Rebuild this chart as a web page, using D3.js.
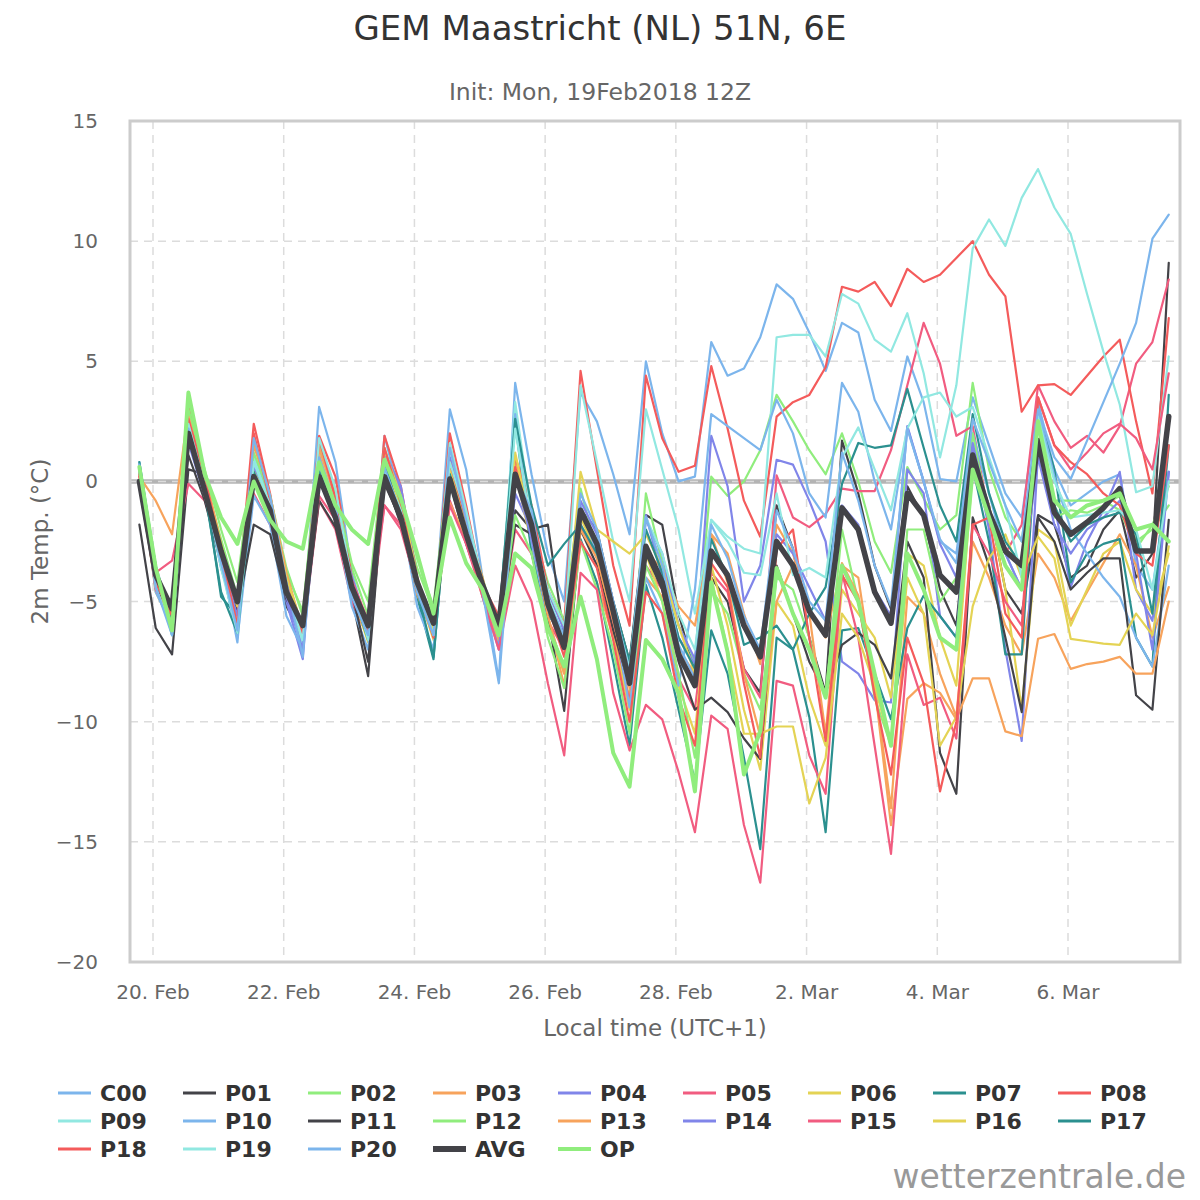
<!DOCTYPE html>
<html>
<head>
<meta charset="utf-8">
<script src="https://cdn.jsdelivr.net/npm/d3@7"></script>
<style>
  body { margin: 0; background: #fff; }
  svg { display: block; }
  text { font-family: "DejaVu Sans", sans-serif; }
</style>
</head>
<body>
<svg id="chart"></svg>
<script>
const WIDTH = 1200;
const HEIGHT = 1200;
const PLOT = { left: 130, right: 1180, top: 121, bottom: 962 };

// Datos: 2m temp (°C), cada 6 h desde 19 Feb 19:00 hora local (UTC+1).
const START = Date.UTC(2018, 1, 19, 19);
const STEP_HOURS = 6;

const c00 = [0.8,-3.5,-5.8,2.5,-0.5,-3.2,-6.7,1.0, -0.8,-4.5,-6.4,3.1,0.8,-3.8,-6.2,1.9, -0.8,-4.0,-6.2,3.0,0.5,-4.0,-8.3,4.1,
  0.3,-3.0,-5.0,3.7,2.5,0.3,-2.2,5.0, 2.0,0.0,0.2,5.8,4.4,4.7,6.0,8.2, 7.6,6.2,4.6,6.6,6.2,3.4,2.1,5.2,
  3.3,0.1,0.0,3.5,1.5,-0.5,-1.5,3.3, 0.5,-1.0,-0.5,0.0,0.3,-3.5,-4.5,0.4];
const p01 = [-1.8,-6.1,-7.2,0.5,0.3,-3.2,-5.6,0.4, -1.6,-5.2,-6.4,0.5,-1.2,-4.8,-8.1,0.2, -1.8,-4.5,-6.5,0.0,-2.6,-4.6,-6.2,-1.2,
  -2.0,-1.8,-6.5,-1.2,-2.0,-5.0,-7.5,-1.4, -1.8,-5.5,-8.0,-4.0,-5.0,-7.8,-8.8,-1.0, -2.8,-6.5,-8.8,1.7,-0.5,-3.5,-5.3,-0.2,
  -1.5,-4.5,-6.0,1.0,-1.0,-4.5,-5.5,-1.4, -1.8,-4.0,-3.5,-2.0,-1.2,-4.0,-3.0,9.1];
const p02 = [0.5,-4.2,-6.0,3.4,0.0,-2.4,-4.8,0.8, -0.8,-3.8,-5.4,1.4,-0.8,-3.6,-5.6,1.0, -1.0,-3.6,-5.4,0.6,-1.8,-4.0,-6.4,1.0,
  -1.8,-4.2,-5.8,-0.3,-3.0,-6.5,-9.0,-0.5, -3.4,-6.0,-7.5,0.2,-0.6,0.0,1.3,3.6, 2.5,1.3,0.3,2.0,0.0,-2.5,-3.8,0.6,
  -0.7,-2.0,-1.4,4.1,0.5,-1.5,-2.5,2.6, -0.8,-0.8,-0.8,-0.8,-1.2,-2.8,-1.8,-0.2];
const p03 = [0.2,-0.8,-2.2,3.0,0.4,-2.6,-5.6,1.5, -0.6,-4.0,-6.6,1.2,-1.0,-4.5,-6.5,0.5, -1.2,-4.4,-6.3,0.6,-1.6,-4.0,-6.8,1.0,
  -2.5,-5.6,-8.5,-2.5,-4.2,-6.5,-9.0,-4.0, -4.8,-7.0,-8.0,-2.2,-3.0,-5.5,-7.6,-1.8, -3.0,-5.4,-6.5,-3.5,-4.0,-8.5,-13.6,-4.8,
  -5.5,-8.0,-9.8,-2.5,-4.0,-6.0,-7.2,-3.0, -4.0,-5.8,-4.6,-3.4,-2.2,-3.5,-6.5,-4.4];
const p04 = [0.5,-4.5,-5.6,2.2,-0.4,-3.6,-5.9,0.6, -1.3,-5.0,-7.4,0.9,-0.8,-4.4,-6.3,1.2, -0.4,-4.3,-6.0,0.6,-2.2,-4.5,-6.8,-0.5,
  -2.0,-4.6,-6.2,-1.8,-3.0,-5.2,-7.8,-1.4, -4.0,-6.5,-7.6,1.9,-0.2,-5.0,-3.5,0.9, 0.7,-0.8,-2.5,-7.5,-8.0,-9.1,-9.2,0.5,
  -0.5,-5.6,-6.5,1.5,-2.0,-7.0,-10.8,1.2, -1.0,-4.4,-2.5,-1.2,0.4,-4.5,-5.8,0.4];
const p05 = [-0.2,-3.8,-3.3,-0.1,-0.8,-3.0,-5.4,-0.5, -1.8,-4.0,-6.5,-0.8,-2.0,-5.0,-6.5,-1.0, -1.8,-4.5,-6.0,-0.8,-2.6,-4.5,-6.6,-2.0,
  -3.0,-5.8,-7.0,-1.8,-3.2,-6.0,-9.2,-3.5, -4.5,-8.2,-9.5,-3.8,-4.6,-7.8,-9.0,0.25, -1.5,-1.9,-1.35,-0.3,-0.4,-0.4,1.3,4.0,
  6.6,4.9,1.9,2.3,-1.5,-3.0,-1.8,4.0, 2.5,1.4,1.9,1.2,2.3,4.9,5.8,8.4];
const p06 = [0.4,-4.6,-6.0,2.6,-0.2,-2.6,-5.4,0.8, -1.0,-4.4,-6.6,0.6,-1.4,-4.6,-6.7,0.7, -1.2,-4.4,-6.6,0.9,-1.8,-4.5,-6.4,0.4,
  -2.6,-6.0,-8.0,-1.5,-3.0,-6.5,-9.5,-3.0, -5.0,-8.5,-10.5,-3.5,-6.0,-9.5,-12.0,-5.0, -6.0,-9.0,-11.0,-4.5,-5.5,-6.5,-9.0,-3.0,
  -3.5,-6.5,-8.5,0.5,-1.0,-4.5,-9.5,-2.0, -2.5,-6.0,-4.5,-3.0,-2.5,-4.5,-5.5,-3.0];
const p07 = [0.8,-3.6,-6.4,2.3,-0.2,-4.8,-5.6,0.6, -1.0,-4.6,-6.2,0.5,-1.0,-4.5,-6.6,0.8, -1.5,-4.8,-7.4,0.5,-2.0,-4.2,-5.8,2.5,
  -3.0,-5.5,-6.6,-2.4,-4.2,-7.5,-11.0,-4.3, -6.5,-9.5,-12.5,-6.2,-8.0,-11.5,-15.3,-6.5, -7.0,-9.8,-14.6,-6.2,-6.1,-8.0,-9.9,-6.1,
  -4.75,-5.6,-6.5,0.6,-2.5,-7.2,-7.2,2.8, 0.5,-4.2,-3.0,-2.6,-2.4,-6.5,-7.7,3.6];
const p08 = [0.3,-4.4,-5.9,3.2,0.2,-3.0,-5.0,2.4, -0.5,-4.3,-6.2,1.9,0.2,-4.0,-6.3,1.9, -0.2,-4.0,-6.0,2.0,-1.0,-4.3,-5.6,1.0,
  -1.0,-4.5,-6.0,4.6,0.5,-3.5,-6.0,4.4, 1.8,0.4,0.65,4.8,2.2,-0.8,-2.3,2.7, 3.3,3.6,4.75,8.1,7.9,8.3,7.3,8.85,
  8.3,8.6,9.3,10.0,8.6,7.7,2.9,4.0, 4.05,3.6,4.4,5.2,5.9,2.5,-0.5,6.8];
const p09 = [0.6,-4.0,-6.4,2.0,-0.4,-3.5,-6.0,1.0, -1.0,-4.8,-6.8,1.4,-0.8,-4.4,-6.3,1.0, -0.8,-4.3,-6.3,1.6,-1.2,-4.2,-6.2,3.3,
  -1.5,-4.8,-6.5,4.0,0.8,-2.5,-5.0,3.0, 0.5,-2.0,-5.5,-1.6,-2.3,-2.8,-3.0,6.0, 6.1,6.1,5.2,7.8,7.4,5.9,5.4,7.0,
  4.5,1.0,4.0,9.7,10.9,9.8,11.8,13.0, 11.4,10.3,7.8,5.4,3.2,-0.45,-0.2,5.2];
const p10 = [0.7,-4.6,-6.0,1.8,-0.6,-3.4,-6.5,-0.6, -1.8,-5.6,-7.0,0.0,-1.4,-5.2,-7.0,0.3, -1.2,-5.2,-7.0,0.9,-2.0,-4.6,-6.8,2.8,
  -2.5,-5.8,-7.8,-1.0,-3.0,-5.5,-9.4,-4.0, -5.5,-8.5,-4.5,2.8,2.3,1.8,1.3,3.4, 2.0,-0.5,-1.5,4.1,2.9,0.0,-2.0,2.25,
  0.0,-2.5,-3.0,2.0,-0.5,-3.0,-4.5,3.0, 0.2,-2.0,-3.0,-4.0,-4.8,-6.5,-7.7,-3.5];
const p11 = [-0.2,-4.3,-6.1,1.1,-0.8,-3.4,-5.4,-1.8, -2.2,-4.9,-6.2,-0.8,-1.9,-4.6,-7.5,-0.1, -1.6,-4.6,-6.2,0.2,-2.4,-4.6,-6.4,-1.8,
  -2.2,-5.6,-9.55,-2.0,-3.5,-6.2,-8.5,-3.0, -4.5,-7.5,-9.5,-9.0,-9.6,-10.7,-11.55,-3.5, -5.5,-7.5,-8.8,-6.8,-6.3,-6.8,-8.2,-2.5,
  -4.0,-11.3,-13.0,-1.5,-3.5,-6.5,-9.6,-1.5, -2.5,-4.5,-3.8,-3.2,-3.2,-8.9,-9.5,-1.6];
const p12 = [0.6,-3.8,-5.4,3.0,0.5,-2.0,-4.2,1.2, -0.6,-3.6,-5.6,1.6,-0.5,-3.4,-5.0,1.4, -0.8,-3.2,-5.2,1.0,-1.8,-4.6,-6.6,-1.4,
  -3.0,-6.5,-8.6,-2.5,-4.5,-7.0,-10.5,-3.5, -5.0,-8.0,-11.5,-4.5,-5.5,-8.0,-9.5,-4.0, -4.5,-6.5,-9.0,-2.0,-5.0,-9.0,-11.0,-2.0,
  -2.0,-5.0,-4.0,2.0,-1.5,-3.5,-4.5,2.3, -1.5,-1.2,-1.3,-1.0,-0.6,-2.5,-2.0,-1.0];
const p13 = [0.5,-4.0,-5.7,2.7,0.0,-3.0,-5.8,1.8, -0.6,-3.8,-6.2,1.4,-0.7,-4.2,-6.0,0.3, -1.2,-4.7,-6.4,-0.9,-2.4,-4.8,-6.6,0.5,
  -2.2,-5.6,-8.0,-2.0,-3.2,-5.8,-8.6,-3.0, -3.6,-5.2,-6.0,-2.2,-4.2,-8.0,-10.6,-5.0, -3.5,-5.5,-10.5,-3.4,-4.75,-8.5,-14.3,-9.05,
  -8.4,-8.8,-9.9,-8.2,-8.2,-10.4,-10.6,-6.55, -6.35,-7.8,-7.6,-7.5,-7.3,-8.0,-8.0,-5.0];
const p14 = [0.4,-4.2,-5.6,1.6,-0.6,-3.3,-5.6,0.6, -1.3,-4.8,-7.0,0.6,-1.0,-4.0,-6.0,1.2, -0.2,-4.1,-6.2,1.0,-1.6,-4.8,-7.0,0.3,
  -2.4,-5.3,-7.0,-0.8,-2.2,-5.0,-8.4,-1.6, -3.0,-6.0,-7.4,-3.0,-4.0,-6.0,-7.0,-2.2, -3.0,-4.4,-5.8,-1.0,-1.8,-4.5,-5.6,2.3,
  0.0,-2.6,-4.0,1.6,-1.5,-3.0,-4.5,1.0, -1.8,-3.0,-2.0,-1.5,-0.8,-3.0,-7.0,0.4];
const p15 = [0.3,-4.5,-5.8,2.0,-0.2,-3.2,-5.2,0.0, -1.6,-4.4,-6.0,-0.6,-1.6,-4.1,-5.8,-1.0, -2.0,-4.4,-6.0,-1.0,-2.6,-4.8,-7.0,-3.5,
  -5.0,-8.4,-11.4,-3.8,-4.5,-8.8,-11.2,-9.3, -9.9,-12.1,-14.6,-9.75,-10.3,-14.3,-16.7,-8.3, -8.5,-11.4,-13.0,-3.8,-6.5,-11.0,-15.5,-7.2,
  -9.3,-9.0,-10.7,-1.8,-3.0,-5.0,-6.0,3.5, 1.5,0.5,1.2,2.0,2.4,1.8,0.5,4.5];
const p16 = [0.6,-3.9,-6.0,2.4,-0.6,-3.0,-5.2,0.4, -1.0,-4.0,-6.1,0.2,-1.0,-4.5,-6.3,1.3, -0.6,-4.0,-6.2,0.6,-2.0,-4.4,-6.2,1.2,
  -2.0,-5.0,-6.8,0.4,-2.0,-2.5,-3.0,-2.2, -3.6,-6.0,-8.0,-4.0,-7.0,-10.5,-10.5,-10.2, -10.2,-13.4,-11.5,-5.5,-6.5,-8.5,-11.0,-4.0,
  -5.5,-11.0,-9.8,-5.2,-3.2,-2.2,-4.0,-2.3, -3.2,-6.55,-6.65,-6.75,-6.8,-5.5,-6.4,-2.7];
const p17 = [0.6,-3.8,-5.7,2.1,-0.4,-4.6,-6.3,0.4, -1.2,-4.6,-6.0,0.4,-1.3,-4.4,-6.4,0.5, -1.6,-4.5,-7.3,0.3,-2.3,-4.4,-5.9,2.6,
  -1.0,-3.5,-2.6,-1.8,-3.0,-5.0,-7.5,-2.0, -3.8,-6.5,-7.8,-2.4,-4.0,-6.8,-6.5,-6.0, -7.0,-5.5,-4.4,-0.1,1.6,1.4,1.5,3.85,
  1.4,-1.0,-2.5,2.8,-0.5,-2.5,-3.5,2.6, -1.0,-2.5,-1.8,-1.5,-1.3,-2.2,-5.5,1.5];
const p18 = [0.2,-4.2,-5.6,2.6,0.2,-3.0,-6.0,2.0, -0.8,-4.3,-6.4,1.8,-0.7,-4.2,-6.2,1.4, -0.9,-4.2,-6.5,0.8,-1.6,-4.4,-6.0,0.6,
  -2.0,-5.2,-7.3,-2.5,-3.6,-6.6,-10.0,-4.6, -5.5,-9.0,-11.0,-3.4,-4.4,-8.4,-11.5,-2.8, -2.0,-6.5,-10.8,-3.9,-5.0,-8.9,-12.2,-6.5,
  -8.4,-12.9,-10.0,-1.8,-1.5,-5.5,-6.5,3.5, 1.5,0.8,0.3,-0.5,-1.0,-3.0,-3.5,1.5];
const p19 = [0.6,-4.4,-6.2,2.4,-0.2,-3.6,-6.3,0.8, -1.0,-4.4,-6.6,1.8,-0.3,-4.2,-6.6,0.4, -1.2,-4.3,-6.4,0.8,-1.4,-4.3,-6.4,2.2,
  -2.0,-4.5,-6.0,-1.2,-2.4,-5.2,-7.8,-1.5, -3.0,-5.5,-7.0,-1.6,-2.5,-3.8,-3.9,-0.5, -3.9,-3.6,-4.0,1.0,2.25,0.5,-1.2,2.2,
  3.5,3.7,2.7,3.1,1.0,-1.0,-4.0,2.7, 0.0,-1.5,-1.4,-1.3,-1.2,-2.0,-4.5,0.0];
const p20 = [0.6,-4.4,-6.4,2.2,-0.4,-3.4,-6.2,1.8, -0.6,-4.2,-7.3,1.0,-1.0,-4.8,-6.4,0.6, -1.4,-4.6,-6.4,1.4,-1.6,-4.6,-8.4,0.2,
  -1.2,-5.0,-6.4,-0.5,-2.0,-5.0,-8.0,-1.5, -3.5,-6.8,-8.2,-1.8,-3.2,-5.6,-7.0,-1.2, -2.8,-5.0,-5.8,1.2,-0.8,-3.5,-5.2,2.2,
  0.0,-2.4,-3.4,2.6,0.8,-1.0,-2.5,3.0, 1.0,0.1,1.7,3.3,4.9,6.6,10.1,11.1];
const avg = [0.0,-3.9,-5.3,2.0,-0.4,-2.9,-5.0,0.2, -1.2,-4.6,-6.0,0.2,-1.5,-4.4,-6.0,0.2, -1.5,-4.2,-5.9,0.1,-2.2,-4.3,-6.0,0.3,
  -1.8,-5.1,-6.9,-1.2,-2.6,-5.4,-8.4,-2.7, -4.2,-7.2,-8.5,-2.9,-3.9,-6.0,-7.3,-2.5, -3.5,-5.4,-6.4,-1.1,-2.0,-4.6,-5.9,-0.5,
  -1.4,-3.9,-4.6,1.1,-1.3,-2.9,-3.5,1.7, -1.3,-2.2,-1.7,-1.1,-0.3,-2.9,-2.9,2.7];
const op = [0.6,-3.6,-6.2,3.7,0.3,-1.5,-2.6,0.0, -1.6,-2.5,-2.8,0.8,-1.0,-2.0,-2.6,0.9, -0.7,-3.0,-5.5,-1.5,-3.4,-4.5,-6.4,-3.0,
  -3.6,-6.1,-7.7,-4.8,-7.4,-11.3,-12.7,-6.6, -7.4,-8.8,-12.9,-4.2,-7.1,-12.2,-10.4,-3.6, -5.5,-7.0,-9.0,-3.5,-5.0,-8.0,-11.0,-3.0,
  -4.5,-6.5,-7.0,0.5,-1.5,-3.5,-4.5,2.5, -0.8,-1.5,-1.0,-0.8,-0.5,-2.0,-1.8,-2.5];

const names = ["C00","P01","P02","P03","P04","P05","P06","P07","P08","P09","P10",
               "P11","P12","P13","P14","P15","P16","P17","P18","P19","P20","AVG","OP"];
const values = [c00,p01,p02,p03,p04,p05,p06,p07,p08,p09,p10,
                p11,p12,p13,p14,p15,p16,p17,p18,p19,p20,avg,op];
const palette = ["#7cb5ec","#434348","#90ed7d","#f7a35c","#8085e9",
                 "#f15c80","#e4d354","#2b908f","#f45b5b","#91e8e1"];
const yTicks = [-20,-15,-10,-5,0,5,10,15];

const series = names.map((name, i) => ({
    name: name,
    values: values[i],
    color: name === "AVG" ? "#434348" : name === "OP" ? "#90ed7d" : palette[i % 10],
    width: name === "AVG" ? 5.5 : name === "OP" ? 4 : 2.2
}));

const times = c00.map((_, i) => new Date(START + i * STEP_HOURS * 3600e3));

// Escalas
const x = d3.scaleUtc()
    .domain([new Date(Date.UTC(2018, 1, 20)), new Date(Date.UTC(2018, 2, 6))])
    .range([153, 1068]);
const y = d3.scaleLinear().domain([-20, 15]).range([PLOT.bottom, PLOT.top]);

const xTicks = d3.utcDay.range(new Date(Date.UTC(2018, 1, 20)), new Date(Date.UTC(2018, 2, 7)), 2);
const fmtDay = d3.utcFormat("%-d. %b");

const svg = d3.select("#chart").attr("width", WIDTH).attr("height", HEIGHT);

svg.append("defs").append("clipPath").attr("id", "plot-clip")
    .append("rect")
    .attr("x", PLOT.left).attr("y", PLOT.top)
    .attr("width", PLOT.right - PLOT.left).attr("height", PLOT.bottom - PLOT.top);

// Titulos
svg.append("text")
    .attr("x", 600).attr("y", 40)
    .attr("text-anchor", "middle")
    .style("font-size", "34px").style("fill", "#333")
    .text("GEM Maastricht (NL) 51N, 6E");

svg.append("text")
    .attr("x", 600).attr("y", 100)
    .attr("text-anchor", "middle")
    .style("font-size", "23.5px").style("fill", "#666")
    .text("Init: Mon, 19Feb2018 12Z");

// Grid
const grid = svg.append("g").attr("id", "grid");

grid.append("line")
    .attr("x1", PLOT.left).attr("x2", PLOT.right)
    .attr("y1", y(0)).attr("y2", y(0))
    .style("stroke", "#b4b4b4").style("stroke-width", 4.5);

grid.selectAll("line.gx")
    .data(xTicks)
    .join("line")
        .attr("class", "gx")
        .attr("x1", d => x(d)).attr("x2", d => x(d))
        .attr("y1", PLOT.top).attr("y2", PLOT.bottom)
        .style("stroke", "#dcdcdc").style("stroke-width", 1.5)
        .style("stroke-dasharray", "8,6");

grid.selectAll("line.gy")
    .data(yTicks)
    .join("line")
        .attr("class", "gy")
        .attr("x1", PLOT.left).attr("x2", PLOT.right)
        .attr("y1", d => y(d)).attr("y2", d => y(d))
        .style("stroke", "#dcdcdc").style("stroke-width", 1.5)
        .style("stroke-dasharray", "8,6");

// Series
const line = d3.line()
    .x((d, i) => x(times[i]))
    .y(d => y(d))
    .curve(d3.curveLinear);

svg.append("g")
    .attr("id", "series")
    .attr("clip-path", "url(#plot-clip)")
    .selectAll("path.serie")
    .data(series)
    .join("path")
        .attr("class", "serie")
        .attr("d", d => line(d.values))
        .style("fill", "none")
        .style("stroke", d => d.color)
        .style("stroke-width", d => d.width)
        .style("stroke-linejoin", "round")
        .style("stroke-linecap", "round");

// Borde
svg.append("rect")
    .attr("x", PLOT.left).attr("y", PLOT.top)
    .attr("width", PLOT.right - PLOT.left).attr("height", PLOT.bottom - PLOT.top)
    .style("fill", "none").style("stroke", "#cccccc").style("stroke-width", 3);

// Ejes
svg.append("g").attr("id", "y-labels")
    .selectAll("text")
    .data(yTicks)
    .join("text")
        .attr("x", 98).attr("y", d => y(d) + 7)
        .attr("text-anchor", "end")
        .style("font-size", "20px").style("fill", "#666")
        .text(d => d < 0 ? "\u2212" + Math.abs(d) : d);

svg.append("g").attr("id", "x-labels")
    .selectAll("text")
    .data(xTicks)
    .join("text")
        .attr("x", d => x(d)).attr("y", 999)
        .attr("text-anchor", "middle")
        .style("font-size", "20px").style("fill", "#666")
        .text(d => fmtDay(d));

svg.append("text")
    .attr("x", (PLOT.left + PLOT.right) / 2).attr("y", 1036)
    .attr("text-anchor", "middle")
    .style("font-size", "23px").style("fill", "#666")
    .text("Local time (UTC+1)");

svg.append("text")
    .attr("transform", `translate(48, ${(PLOT.top + PLOT.bottom) / 2}) rotate(-90)`)
    .attr("text-anchor", "middle")
    .style("font-size", "23px").style("fill", "#666")
    .text("2m Temp. (\u00b0C)");

// Leyenda
const legend = svg.append("g").attr("id", "legend")
    .selectAll("g.item")
    .data(series)
    .join("g")
        .attr("class", "item")
        .attr("transform", (d, i) => `translate(${58 + (i % 9) * 125}, ${1093 + Math.floor(i / 9) * 28})`);

legend.append("line")
    .attr("x1", 0).attr("x2", 33).attr("y1", 0).attr("y2", 0)
    .style("stroke", d => d.color)
    .style("stroke-width", d => d.name === "AVG" ? 6 : d.name === "OP" ? 4 : 3);

legend.append("text")
    .attr("x", 42).attr("y", 8)
    .style("font-size", "22px").style("font-weight", "bold").style("fill", "#333")
    .text(d => d.name);

// Creditos
svg.append("text")
    .attr("x", 1186).attr("y", 1188)
    .attr("text-anchor", "end")
    .style("font-size", "33px").style("fill", "#999")
    .text("wetterzentrale.de");
</script>
</body>
</html>
